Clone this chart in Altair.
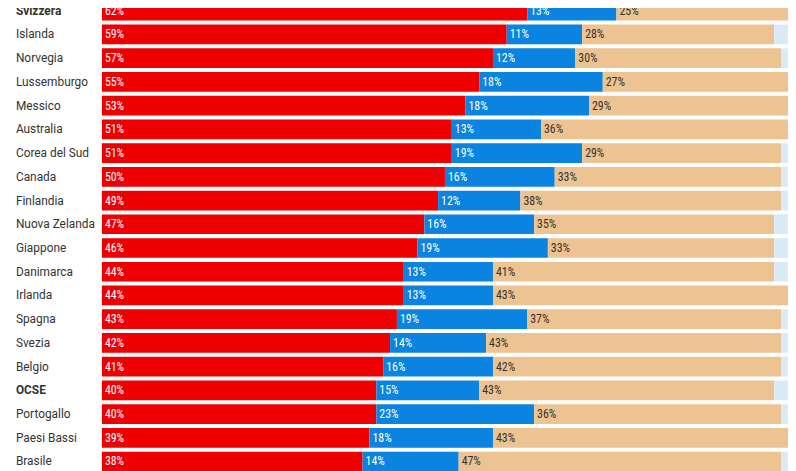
import altair as alt
import pandas as pd

countries = ["Svizzera", "Islanda", "Norvegia", "Lussemburgo", "Messico", "Australia",
             "Corea del Sud", "Canada", "Finlandia", "Nuova Zelanda", "Giappone",
             "Danimarca", "Irlanda", "Spagna", "Svezia", "Belgio", "OCSE",
             "Portogallo", "Paesi Bassi", "Brasile"]
red = [62, 59, 57, 55, 53, 51, 51, 50, 49, 47, 46, 44, 44, 43, 42, 41, 40, 40, 39, 38]
blue = [13, 11, 12, 18, 18, 13, 19, 16, 12, 16, 19, 13, 13, 19, 14, 16, 15, 23, 18, 14]
tan = [25, 28, 30, 27, 29, 36, 29, 33, 38, 35, 33, 41, 43, 37, 43, 42, 43, 36, 43, 47]

rows = []
for c, r, b, t in zip(countries, red, blue, tan):
    start = 0
    for seg, v in (("a", r), ("b", b), ("c", t), ("d", max(100 - r - b - t, 0))):
        rows.append({"country": c, "seg": seg, "v": v, "start": start, "end": start + v,
                     "label": f"{v}%" if seg != "d" else "",
                     "bold": c in ("Svizzera", "OCSE")})
        start += v
df = pd.DataFrame(rows)

y = alt.Y("country:N", sort=countries, axis=None,
          scale=alt.Scale(paddingInner=0.17, paddingOuter=0.085))
base = alt.Chart(df)

bars = base.mark_bar(yOffset=-12).encode(
    x=alt.X("start:Q", axis=None, scale=alt.Scale(domain=[0, 100], nice=False)),
    x2="end:Q",
    y=y,
    color=alt.Color("seg:N", legend=None,
                    scale=alt.Scale(domain=["a", "b", "c", "d"],
                                    range=["#ee0000", "#0a84e0", "#edc391", "#d9ebf7"])),
)

texts = base.mark_text(align="left", dx=3, yOffset=-12, font="Roboto Condensed, Roboto",
                       fontSize=12).encode(
    x="start:Q",
    y=y,
    text="label:N",
    color=alt.condition("datum.seg == 'c'", alt.value("#333333"), alt.value("white")),
)

names = base.transform_filter("datum.seg == 'a' && !datum.bold").mark_text(
    align="left", yOffset=-12, font="Roboto", fontSize=12, color="#333333").encode(
    x=alt.value(-87),
    y=y,
    text="country:N",
)
bold_names = base.transform_filter("datum.seg == 'a' && datum.bold").mark_text(
    align="left", yOffset=-12, font="Roboto", fontSize=12, fontWeight="bold",
    color="#333333").encode(
    x=alt.value(-87),
    y=y,
    text="country:N",
)

chart = (bars + texts + names + bold_names).properties(
    width=694, height=480,
    autosize=alt.AutoSizeParams(type="none"),
    padding={"left": 95, "top": 0, "right": 0, "bottom": 0},
).configure_view(stroke=None)

chart.save("out.html", embed_options={"renderer": "svg", "actions": False})
